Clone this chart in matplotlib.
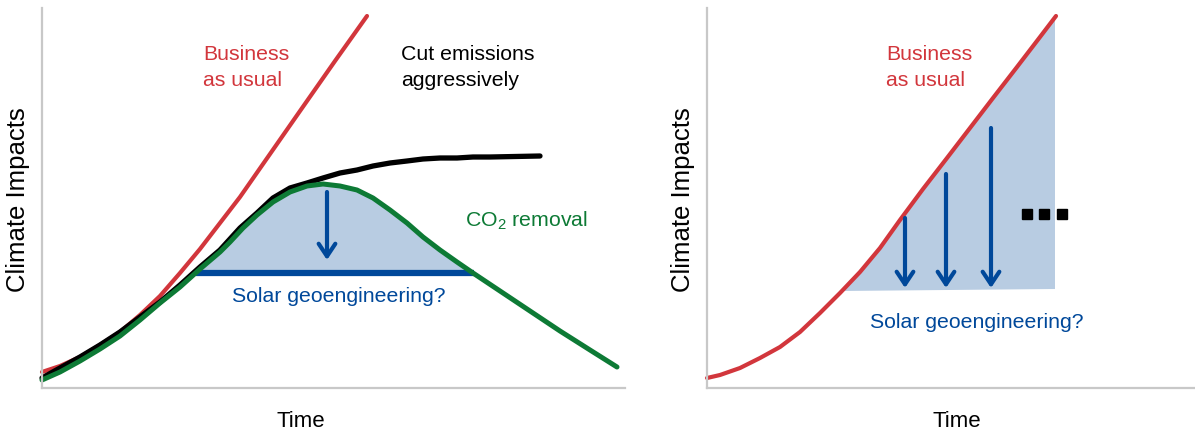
import matplotlib
matplotlib.use("Agg")
import matplotlib.pyplot as plt

plt.rcParams["font.family"] = ["Liberation Sans", "DejaVu Sans"]

RED = "#d2363c"
GREEN = "#0d7a35"
BLUE = "#00489a"
FILL = "#b8cce2"
AXIS = "#c8c8c8"

# left panel: time vs impact (arbitrary units)
bau_t = [0, 18, 38, 58, 78, 98, 118, 138, 158, 178, 198, 228, 258, 293, 325]
bau_v = [16, 22, 31, 43, 56, 73, 92, 115, 139, 165, 191, 234, 277, 327, 372]

cut_t = [0, 18, 38, 58, 78, 98, 118, 138, 158, 178, 198, 215, 231, 248, 265,
         281, 298, 315, 331, 348, 365, 381, 398, 415, 431, 448, 498]
cut_v = [10, 20, 31, 43, 56, 71, 86, 103, 121, 138, 160, 175, 190, 200, 205,
         210, 215, 218, 222, 225, 227, 229, 230, 230, 231, 231, 232]

cdr_t = [0, 18, 38, 58, 78, 98, 118, 138, 158, 178, 188, 201, 215, 231, 248,
         265, 281, 298, 315, 331, 348, 365, 381, 398, 415, 431, 458, 488, 518,
         548, 575]
cdr_v = [8, 16, 27, 39, 52, 68, 85, 101, 119, 136, 146, 160, 173, 186, 196,
         202, 204, 202, 198, 190, 178, 165, 151, 138, 126, 115, 97, 77, 57,
         38, 21]

solar_level = 115
solar_span = (154, 432)
arrow_left = (285, 196, 128)  # t, from, to

# right panel
bau2_t = [0, 13, 33, 53, 73, 93, 113, 133, 153, 173, 193, 216, 240, 263, 286,
          310, 333, 349]
bau2_v = [10, 13, 20, 30, 41, 56, 75, 95, 116, 140, 168, 199, 230, 260, 290,
          321, 351, 372]

fill2_t = [133, 153, 173, 193, 216, 240, 263, 286, 310, 333, 348, 348]
fill2_v = [97, 116, 140, 168, 199, 230, 260, 290, 321, 351, 370, 99]

arrows2_t = [198, 239, 284]
arrows2_top = [170, 214, 260]
arrows2_tip = 100

dots_t = [320, 337, 355]
dots_v = [174, 174, 174]

W, H = 1195, 433
fig = plt.figure(figsize=(W / 100, H / 100), dpi=100)
ax1 = fig.add_axes([42 / W, 45 / H, 583 / W, 380 / H])
ax2 = fig.add_axes([707 / W, 45 / H, 488 / W, 380 / H])

for ax, xmax in ((ax1, 583), (ax2, 488)):
    ax.set_xlim(0, xmax)
    ax.set_ylim(0, 380)
    ax.set_xticks([])
    ax.set_yticks([])
    for s in ("top", "right"):
        ax.spines[s].set_visible(False)
    for s in ("left", "bottom"):
        ax.spines[s].set_color(AXIS)
        ax.spines[s].set_linewidth(1.6)
    ax.text(-24, 188, "Climate Impacts", rotation=90, ha="center", va="center",
            fontsize=18.5)

lab = dict(fontsize=15.3, va="baseline")
line = dict(solid_capstyle="round", solid_joinstyle="round", clip_on=False)
arrow = dict(arrowstyle="->,head_length=0.45,head_width=0.3", color=BLUE,
             lw=3, shrinkA=0, shrinkB=0, mutation_scale=20)

# left panel
ax1.fill_between(cdr_t, cdr_v, solar_level,
                 where=[solar_span[0] - 10 <= t <= solar_span[1] + 10 for t in cdr_t],
                 interpolate=True, color=FILL, lw=0)
ax1.plot(solar_span, [solar_level] * 2, color=BLUE, lw=4.5, solid_capstyle="butt")
ax1.annotate("", xy=(arrow_left[0], arrow_left[2]),
             xytext=(arrow_left[0], arrow_left[1]), arrowprops=arrow)
ax1.plot(bau_t, bau_v, color=RED, lw=3, **line)
ax1.plot(cut_t, cut_v, color="black", lw=3.8, **line)
ax1.plot(cdr_t, cdr_v, color=GREEN, lw=3.6, **line)

ax1.text(161, 328, "Business", color=RED, **lab)
ax1.text(161, 302, "as usual", color=RED, **lab)
ax1.text(359, 328, "Cut emissions", color="black", **lab)
ax1.text(359, 302, "aggressively", color="black", **lab)
ax1.text(423, 162, "CO$_\\mathregular{2}$ removal", color=GREEN, **lab)
ax1.text(190, 86, "Solar geoengineering?", color=BLUE, **lab)
ax1.text(259, -39, "Time", ha="center", va="baseline", fontsize=16)

# right panel
ax2.fill(fill2_t, fill2_v, color=FILL, lw=0)
for t, top in zip(arrows2_t, arrows2_top):
    ax2.annotate("", xy=(t, arrows2_tip), xytext=(t, top), arrowprops=arrow)
ax2.plot(bau2_t, bau2_v, color=RED, lw=3, **line)
ax2.plot(dots_t, dots_v, ls="none", marker="s", ms=6.5, color="black")

ax2.text(179, 328, "Business", color=RED, **lab)
ax2.text(179, 302, "as usual", color=RED, **lab)
ax2.text(163, 60, "Solar geoengineering?", color=BLUE, **lab)
ax2.text(250, -39, "Time", ha="center", va="baseline", fontsize=16)

fig.savefig("out.png", dpi=100)
